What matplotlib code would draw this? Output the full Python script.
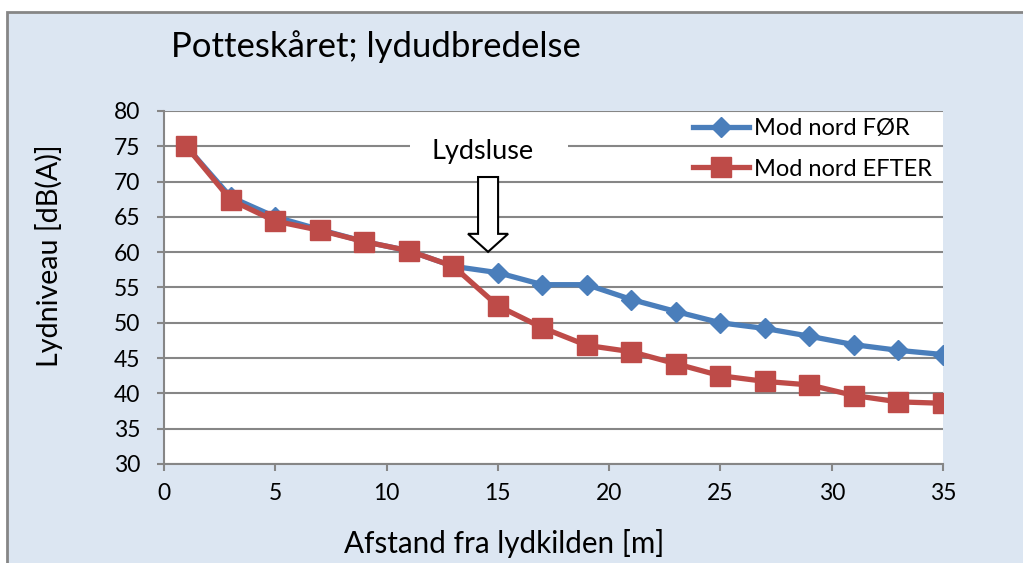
import matplotlib.pyplot as plt
from matplotlib.patches import Rectangle, FancyArrow

plt.rcParams['font.family'] = ['Lato', 'DejaVu Sans']

# distance from sound source [m]
afstand = [1, 3, 5, 7, 9, 11, 13, 15, 17, 19, 21, 23, 25, 27, 29, 31, 33, 35]
# sound level [dB(A)]
for_vals = [75.0, 67.8, 65.0, 63.2, 61.5, 60.2, 58.0, 57.1, 55.4, 55.4,
            53.3, 51.6, 50.0, 49.2, 48.1, 46.9, 46.1, 45.5]
efter_vals = [75.0, 67.4, 64.4, 63.1, 61.5, 60.2, 58.0, 52.4, 49.3, 46.8,
              45.9, 44.2, 42.5, 41.7, 41.2, 39.7, 38.8, 38.6]
x_ticks = [0, 5, 10, 15, 20, 25, 30, 35]
y_ticks = [30, 35, 40, 45, 50, 55, 60, 65, 70, 75, 80]

blue = '#4a7ebb'
red = '#be4b48'
grid_col = '#868686'
bg = '#dce6f2'

W, H = 1023, 563
fig = plt.figure(figsize=(W / 100, H / 100), dpi=100)
fig.patch.set_facecolor('white')
fig.add_artist(Rectangle((7 / W, -0.01), 1.0, 1 - 12 / H + 0.01,
                         transform=fig.transFigure, facecolor=bg,
                         edgecolor=grid_col, linewidth=2, zorder=0))

ax = fig.add_axes([164 / W, 1 - 464 / H, (943 - 164) / W, (464 - 111) / H])
ax.set_facecolor('white')

ax.plot(afstand, for_vals, color=blue, lw=3.8, marker='D', ms=10,
        label='Mod nord FØR', zorder=3)
ax.plot(afstand, efter_vals, color=red, lw=3.8, marker='s', ms=14,
        label='Mod nord EFTER', zorder=4)

ax.set_xlim(0, 35)
ax.set_ylim(30, 80)
ax.set_xticks(x_ticks)
ax.set_yticks(y_ticks)
ax.yaxis.grid(True, color=grid_col, lw=1.5)
ax.set_axisbelow(True)
for s in ['top', 'right']:
    ax.spines[s].set_visible(False)
for s in ['left', 'bottom']:
    ax.spines[s].set_color(grid_col)
    ax.spines[s].set_linewidth(1.5)
ax.tick_params(colors=grid_col, labelcolor='black', labelsize=16.5,
               length=5, width=1.5, direction='out')
ax.tick_params(axis='x', pad=9)
ax.tick_params(axis='y', pad=12)

fig.text(504 / W, 1 - 544 / H, 'Afstand fra lydkilden [m]', fontsize=21.3,
         ha='center', va='center')
fig.text(49 / W, 1 - 256 / H, 'Lydniveau [dB(A)]', fontsize=20.6,
         rotation=90, ha='center', va='center')
fig.text(171 / W, 1 - 47 / H, 'Potteskåret; lydudbredelse',
         fontsize=25, va='center', ha='left')

# annotation
ax.add_patch(Rectangle((11.05, 73.0), 7.1, 4.0, facecolor='white',
                       edgecolor='none', zorder=2))
ax.text(14.3, 74.2, 'Lydsluse', fontsize=19.5, ha='center', va='center', zorder=5)
ax.add_patch(FancyArrow(14.56, 70.65, 0, -10.6, width=0.9, head_width=1.8,
                        head_length=2.55, length_includes_head=True,
                        facecolor='white', edgecolor='black', lw=1.5, zorder=5))

ax.legend(loc='center left', bbox_to_anchor=(693 / W, 1 - 149 / H),
          bbox_transform=fig.transFigure, frameon=False, borderpad=0,
          borderaxespad=0, fontsize=17, handlelength=2.37, labelspacing=0.82,
          handletextpad=0.2)

fig.savefig('out.png', dpi=100)
